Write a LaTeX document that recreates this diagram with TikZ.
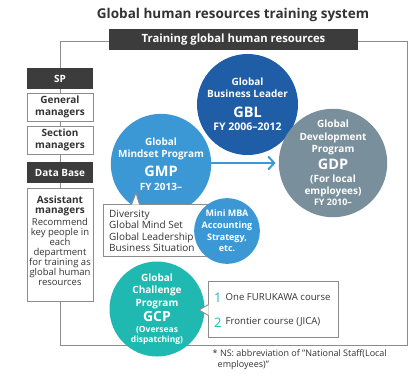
\documentclass[tikz,border=0pt]{standalone}
\usepackage{fontspec}
\setmainfont{Open Sans}
\usetikzlibrary{arrows.meta}

\definecolor{darkbar}{HTML}{3C3C3C}
\definecolor{gblblue}{HTML}{1F5DA6}
\definecolor{gmpblue}{HTML}{3B98D5}
\definecolor{gdpgray}{HTML}{7A8F9C}
\definecolor{gcpteal}{HTML}{20B9B1}
\definecolor{framegray}{HTML}{8C8C8C}
\definecolor{textgray}{HTML}{333333}

\newcommand{\fsz}[2]{\fontsize{#1}{#2}\selectfont}

\tikzset{
  frameline/.style={draw=framegray, line width=0.9pt},
  darkbox/.style={fill=darkbar, text=white, font=\fsz{10}{11}\bfseries,
    minimum width=66pt, inner sep=0pt},
  whitebox/.style={draw=framegray, fill=white, text=textgray, line width=0.9pt,
    font=\fsz{10}{11.5}\bfseries, minimum width=66pt, inner sep=0pt, align=center},
  prog/.style={circle, inner sep=0pt, text=white, align=center},
  notebox/.style={draw=framegray, fill=white, line width=0.9pt, inner sep=0pt},
  notetext/.style={text=textgray, align=left, anchor=west, inner sep=0pt},
}

\begin{document}
\begin{tikzpicture}[x=1pt, y=-1pt]
\useasboundingbox (0,0) rectangle (419,373);

% title
\node[text=textgray, font=\fsz{13.5}{15}\bfseries] (title) at (233,15)
  {Global human resources training system};

% outer frame
\draw[frameline] (60,41) rectangle (407,345);
\node[fill=darkbar, text=white, font=\fsz{11.3}{12}\bfseries,
  minimum width=249pt, minimum height=21pt, inner sep=0pt] (head) at (233.5,39.5)
  {Training global human resources};

% left column: ranks
\node[darkbox, minimum height=21pt] (sp) at (60,78.5) {SP};
\node[whitebox, minimum height=28pt] (gm) at (60,107) {General\\managers};
\node[whitebox, minimum height=28pt] (sm) at (60,140) {Section\\managers};
\node[darkbox, minimum height=21pt] (db) at (60,172.5) {Data Base};
\node[whitebox, minimum height=113pt, anchor=north] (asst) at (60,188) {};
\node[text=textgray, align=center, inner sep=0pt, anchor=north,
  font=\fsz{9.5}{10}\selectfont] (asstxt) at (60,195.5)
  {\fsz{10}{11}\bfseries Assistant\\[0.5pt]
   \fsz{10}{11}\bfseries managers\\[1.5pt]
   Recommend\\key people in\\each\\department\\for training as\\global human\\resources};

% GMP and its contents
\node[prog, fill=gmpblue, minimum size=98pt, font=\fsz{10}{12}\bfseries] (gmp) at (161,164)
  {Global\\Mindset Program\\[5.5pt]
   \fsz{14.5}{12}\bfseries GMP\\[1.5pt]\fsz{10}{12}\bfseries FY 2013--};
\node[notebox, minimum width=105pt, minimum height=52pt] (gmpnote) at (155.5,230) {};
\path[fill=white, draw=framegray, line width=0.9pt]
  (131.5,204.6) -- (136,193) -- (139.5,204.6);
\node[notetext, font=\fsz{10}{11.3}\selectfont] (gmptxt) at (109,231)
  {Diversity\\Global Mind Set\\Global Leadership\\Business Situation};

% GBL, GDP, Mini MBA
\node[prog, fill=gblblue, minimum size=101pt, font=\fsz{10}{12}\bfseries] (gbl) at (247.5,104.5)
  {Global\\Business Leader\\[7.5pt]
   \fsz{14.5}{12}\bfseries GBL\\[1.5pt]\fsz{10.5}{12}\bfseries FY 2006--2012};
\node[prog, fill=gdpgray, minimum size=100pt, font=\fsz{10}{12.5}\bfseries] (gdp) at (333,163)
  {Global\\Development\\Program\\[3pt]
   \fsz{14.5}{12.5}\bfseries GDP\\
   (For local\\employees)\\[-1.5pt]\fsz{9}{12.5}\bfseries FY 2010--};
\node[prog, fill=gmpblue, minimum size=61pt, font=\fsz{9}{11.7}\bfseries] (mba) at (227,231)
  {Mini MBA\\Accounting\\Strategy,\\etc.};
\draw[gmpblue, line width=2pt, shorten >=3pt,
  -{Straight Barb[length=6pt, width=13pt]}]
  (gmp.east |- 0,163) -- (gdp.west |- 0,163);

% GCP and its courses
\node[prog, fill=gcpteal, minimum size=95pt, font=\fsz{10}{12.5}\bfseries] (gcp) at (157,309)
  {Global\\Challenge\\Program\\[2pt]
   \fsz{14}{12.5}\bfseries GCP\\[-1.5pt]
   \fsz{8.5}{11}\bfseries (Overseas\\[-2.5pt]\fsz{8.5}{11}\bfseries dispatching)};
\node[notebox, minimum width=130pt, minimum height=56pt] (gcpnote) at (273,309) {};
\path[fill=white, draw=framegray, line width=0.9pt]
  (208.6,304.5) -- (199,310) -- (208.6,315.5);
\node[notetext, text=gcpteal, font=\fsz{13}{13}\selectfont] (n1) at (214,297.5) {1};
\node[notetext, font=\fsz{9.6}{10}\selectfont] (c1) at (225.5,297) {One FURUKAWA course};
\node[notetext, text=gcpteal, font=\fsz{13}{13}\selectfont] (n2) at (214,322.5) {2};
\node[notetext, font=\fsz{9.6}{10}\selectfont] (c2) at (225.5,322) {Frontier course (JICA)};

% footnote
\node[notetext, font=\fsz{9}{11}\selectfont, anchor=north west] (foot) at (212.5,349.5)
  {* NS: abbreviation of "National Staff(Local\\\hspace*{5pt}employees)"};
\end{tikzpicture}
\end{document}
